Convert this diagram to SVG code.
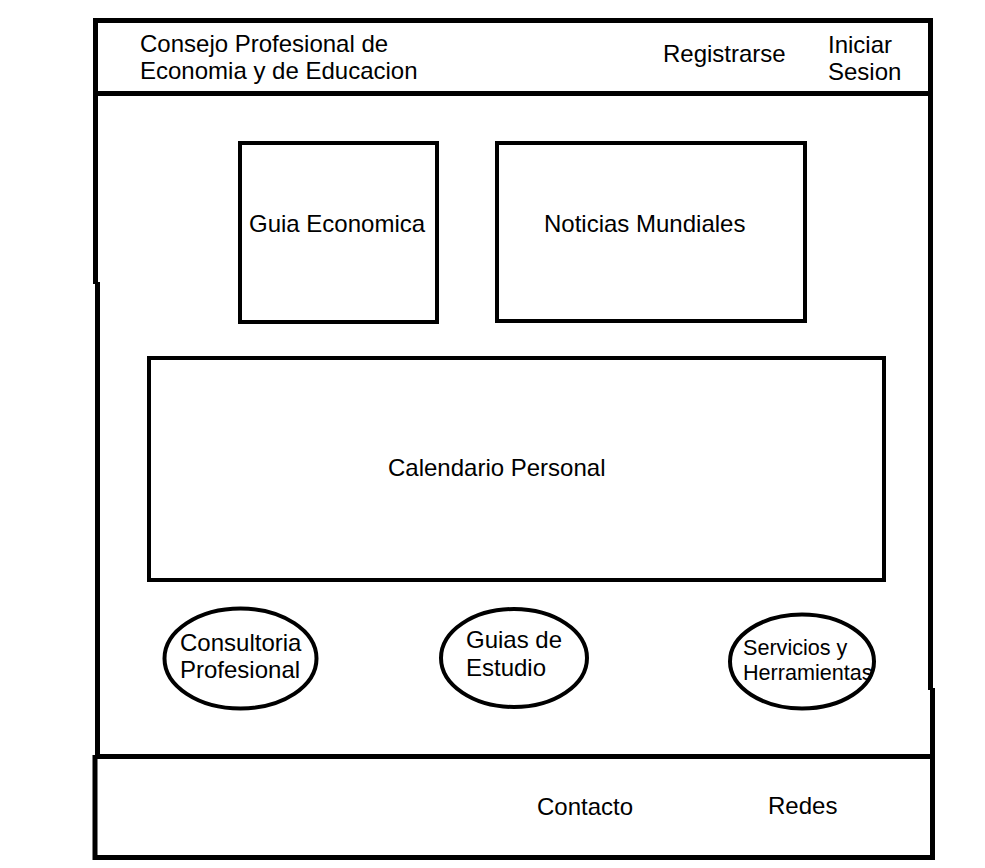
<svg xmlns="http://www.w3.org/2000/svg" width="985" height="868" viewBox="0 0 985 868">
<style>
.ln{stroke:#000;stroke-width:5;fill:none}
.bx{stroke:#000;stroke-width:4;fill:none}
.t{font-family:"Liberation Sans",Arial,sans-serif;font-size:24px;fill:#000}
.s{font-size:21.6px}
</style>
<rect width="985" height="868" fill="#fff"/>
<g id="frame">
<path class="ln" d="M95.5,18 V284 M97.5,282 V757 M95,755 V860 M93,20.5 H933 M930.5,18 V690 M932.5,688 V860 M95,93.5 H930 M95,756.5 H935 M93,857.5 H935"/>
</g>
<g id="header">
<text class="t" x="140" y="52">Consejo Profesional de</text>
<text class="t" x="140" y="79">Economia y de Educacion</text>
<text class="t" x="663" y="62">Registrarse</text>
<text class="t" x="828" y="53">Iniciar</text>
<text class="t" x="828" y="80">Sesion</text>
</g>
<g id="guia-economica">
<rect class="bx" x="240" y="143" width="197" height="179"/>
<text class="t" x="249" y="232">Guia Economica</text>
</g>
<g id="noticias-mundiales">
<rect class="bx" x="497" y="143" width="308" height="178"/>
<text class="t" x="544" y="232">Noticias Mundiales</text>
</g>
<g id="calendario-personal">
<rect class="bx" x="149" y="358" width="735" height="222"/>
<text class="t" x="388" y="476">Calendario Personal</text>
</g>
<g id="consultoria">
<ellipse class="bx" cx="240.5" cy="658.5" rx="76" ry="50"/>
<text class="t" x="180" y="651">Consultoria</text>
<text class="t" x="180" y="678">Profesional</text>
</g>
<g id="guias-estudio">
<ellipse class="bx" cx="514" cy="658" rx="73" ry="49"/>
<text class="t" x="466" y="648">Guias de</text>
<text class="t" x="466" y="676">Estudio</text>
</g>
<g id="servicios">
<ellipse class="bx" cx="802" cy="661.5" rx="72" ry="47"/>
<text class="t s" x="743" y="655">Servicios y</text>
<text class="t s" x="743" y="680">Herramientas</text>
</g>
<g id="footer">
<text class="t" x="537" y="815">Contacto</text>
<text class="t" x="768" y="814">Redes</text>
</g>
<g id="connectors"></g>
</svg>
